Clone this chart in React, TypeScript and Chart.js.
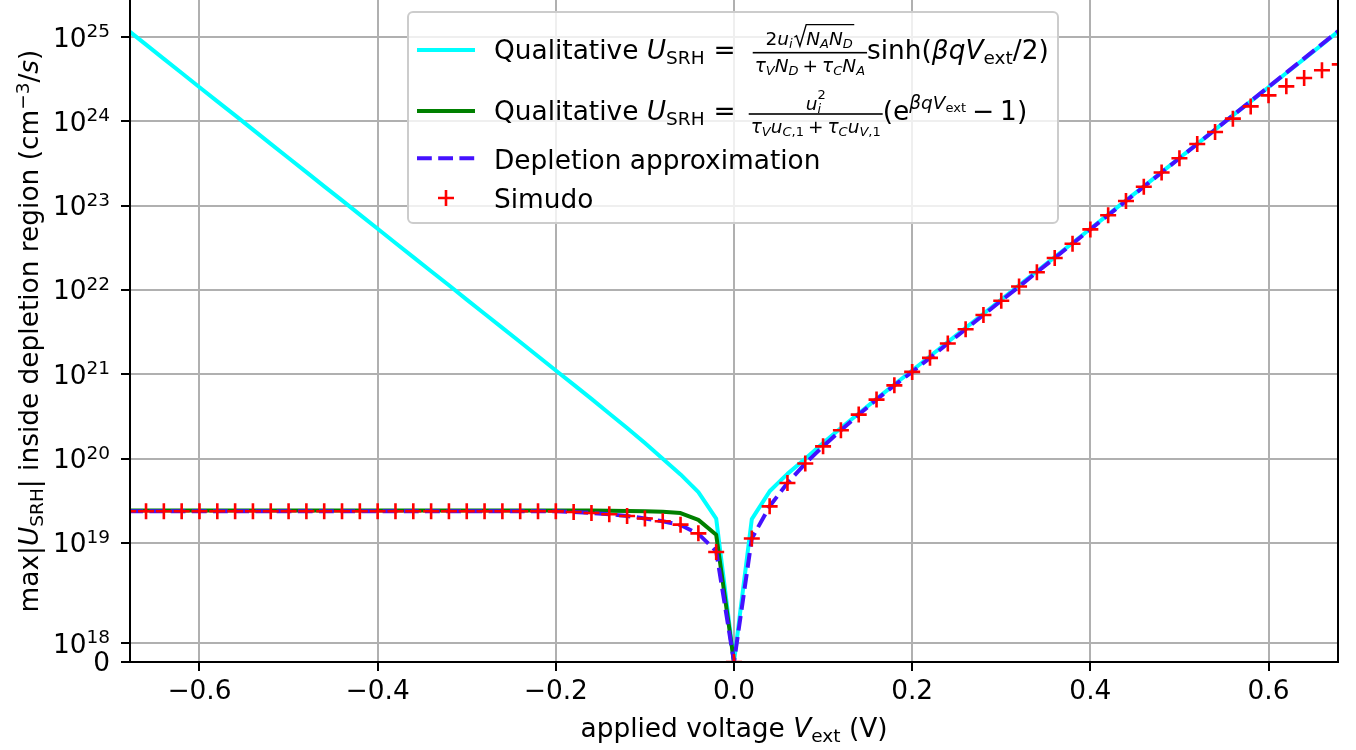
import React, { useEffect, useRef } from 'react';
import { Chart, registerables, Scale } from 'chart.js';

Chart.register(...registerables);

// ---------------- data ----------------
const VOLTAGE = [
  -0.68, -0.66, -0.64, -0.62, -0.6, -0.58, -0.56, -0.54, -0.52, -0.5,
  -0.48, -0.46, -0.44, -0.42, -0.4, -0.38, -0.36, -0.34, -0.32, -0.3,
  -0.28, -0.26, -0.24, -0.22, -0.2, -0.18, -0.16, -0.14, -0.12, -0.1,
  -0.08, -0.06, -0.04, -0.02, 0.0, 0.02, 0.04, 0.06, 0.08, 0.1,
  0.12, 0.14, 0.16, 0.18, 0.2, 0.22, 0.24, 0.26, 0.28, 0.3,
  0.32, 0.34, 0.36, 0.38, 0.4, 0.42, 0.44, 0.46, 0.48, 0.5,
  0.52, 0.54, 0.56, 0.58, 0.6, 0.62, 0.64, 0.66, 0.68,
];

// Qualitative U_SRH (sinh form), cyan
const QUAL_SINH = [
  1.2e25, 8.15e24, 5.53e24, 3.76e24, 2.55e24, 1.73e24, 1.18e24, 8.0e23, 5.43e23, 3.69e23,
  2.51e23, 1.7e23, 1.16e23, 7.85e22, 5.33e22, 3.62e22, 2.46e22, 1.67e22, 1.14e22, 7.71e21,
  5.24e21, 3.56e21, 2.42e21, 1.64e21, 1.11e21, 7.57e20, 5.12e20, 3.44e20, 2.31e20, 1.53e20,
  1.0e20, 6.5e19, 4.0e19, 1.95e19, 0, 1.92e19, 4.1e19, 6.6e19, 1.0e20, 1.53e20,
  2.31e20, 3.44e20, 5.12e20, 7.57e20, 1.11e21, 1.64e21, 2.42e21, 3.56e21, 5.24e21, 7.71e21,
  1.14e22, 1.67e22, 2.46e22, 3.62e22, 5.33e22, 7.85e22, 1.16e23, 1.7e23, 2.51e23, 3.69e23,
  5.43e23, 8.0e23, 1.18e24, 1.73e24, 2.55e24, 3.76e24, 5.53e24, 8.15e24, 1.21e25,
];

// Qualitative U_SRH (exp form), green, only for V <= 0 (first 35 voltages)
const QUAL_EXP = [
  2.42e19, 2.42e19, 2.42e19, 2.42e19, 2.42e19, 2.42e19, 2.42e19, 2.42e19, 2.42e19, 2.42e19,
  2.42e19, 2.42e19, 2.42e19, 2.42e19, 2.42e19, 2.42e19, 2.42e19, 2.42e19, 2.42e19, 2.42e19,
  2.42e19, 2.42e19, 2.42e19, 2.42e19, 2.42e19, 2.42e19, 2.42e19, 2.41e19, 2.4e19, 2.38e19,
  2.34e19, 2.26e19, 1.88e19, 1.25e19, 0,
];

// Depletion approximation, dashed
const DEPLETION = [
  2.38e19, 2.38e19, 2.38e19, 2.38e19, 2.38e19, 2.38e19, 2.38e19, 2.38e19, 2.38e19, 2.38e19,
  2.38e19, 2.38e19, 2.38e19, 2.38e19, 2.38e19, 2.38e19, 2.38e19, 2.38e19, 2.38e19, 2.38e19,
  2.38e19, 2.38e19, 2.38e19, 2.38e19, 2.37e19, 2.33e19, 2.27e19, 2.19e19, 2.09e19, 1.95e19,
  1.81e19, 1.63e19, 1.28e19, 8.0e18, 0, 1.13e19, 2.72e19, 5.14e19, 8.75e19, 1.4e20,
  2.17e20, 3.33e20, 5.02e20, 7.41e20, 1.07e21, 1.57e21, 2.32e21, 3.43e21, 5.06e21, 7.48e21,
  1.1e22, 1.63e22, 2.4e22, 3.55e22, 5.24e22, 7.73e22, 1.14e23, 1.68e23, 2.48e23, 3.66e23,
  5.41e23, 7.98e23, 1.18e24, 1.74e24, 2.57e24, 3.79e24, 5.6e24, 8.26e24, 1.22e25,
];

// Simudo, red "+"
const SIMUDO = [
  2.38e19, 2.38e19, 2.38e19, 2.38e19, 2.38e19, 2.38e19, 2.38e19, 2.38e19, 2.38e19, 2.38e19,
  2.38e19, 2.38e19, 2.38e19, 2.38e19, 2.38e19, 2.38e19, 2.38e19, 2.38e19, 2.38e19, 2.38e19,
  2.38e19, 2.38e19, 2.38e19, 2.38e19, 2.37e19, 2.33e19, 2.27e19, 2.19e19, 2.09e19, 1.95e19,
  1.81e19, 1.65e19, 1.3e19, 7.8e18, 0, 1.13e19, 2.72e19, 5.14e19, 8.75e19, 1.4e20,
  2.17e20, 3.33e20, 5.02e20, 7.41e20, 1.07e21, 1.57e21, 2.32e21, 3.43e21, 5.06e21, 7.48e21,
  1.1e22, 1.63e22, 2.4e22, 3.55e22, 5.24e22, 7.73e22, 1.14e23, 1.68e23, 2.48e23, 3.66e23,
  5.41e23, 7.5e23, 1.08e24, 1.51e24, 2.04e24, 2.61e24, 3.28e24, 4.05e24, 4.76e24,
];

const X_TICKS = [-0.6, -0.4, -0.2, 0, 0.2, 0.4, 0.6];
const X_TICK_LABELS = ['\u22120.6', '\u22120.4', '\u22120.2', '0.0', '0.2', '0.4', '0.6'];
const Y_TICKS = [0, 1e18, 1e19, 1e20, 1e21, 1e22, 1e23, 1e24, 1e25];
const Y_TICK_LABELS: [string, string][] = [
  ['0', ''], ['10', '18'], ['10', '19'], ['10', '20'], ['10', '21'],
  ['10', '22'], ['10', '23'], ['10', '24'], ['10', '25'],
];
const X_MIN = -0.678;
const X_MAX = 0.678;
const Y_MIN = 0;
const Y_MAX = 2.76e25;

// symlog parameters (matplotlib style)
const LINTHRESH = 5e18;
const LINSCALE = 1;
const LIN_ADJ = LINSCALE / (1 - 1 / 10);

function symlog(v: number): number {
  const a = Math.abs(v);
  if (a <= LINTHRESH) return (v / LINTHRESH) * LIN_ADJ;
  return Math.sign(v) * (LIN_ADJ + Math.log10(a / LINTHRESH));
}
function symlogInv(t: number): number {
  const a = Math.abs(t);
  if (a <= LIN_ADJ) return (t / LIN_ADJ) * LINTHRESH;
  return Math.sign(t) * LINTHRESH * Math.pow(10, a - LIN_ADJ);
}

class SymLogScale extends Scale {
  static id = 'symlog';
  static defaults = {};
  tMin = 0;
  tMax = 1;
  parse(raw: any) {
    if (raw === null || raw === undefined) return null;
    const v = Number(raw);
    return Number.isFinite(v) ? v : null;
  }
  determineDataLimits() {
    const mm = (this as any).getMinMax(false);
    const o: any = this.options;
    (this as any).min = typeof o.min === 'number' ? o.min : mm.min;
    (this as any).max = typeof o.max === 'number' ? o.max : mm.max;
  }
  buildTicks() {
    const self: any = this;
    return Y_TICKS.filter((v) => v >= self.min && v <= self.max).map((v) => ({ value: v }));
  }
  configure() {
    super.configure();
    const self: any = this;
    this.tMin = symlog(self.min);
    this.tMax = symlog(self.max);
  }
  getLabelForValue(v: number) {
    return String(v);
  }
  getPixelForValue(v: number) {
    return (this as any).getPixelForDecimal((symlog(v) - this.tMin) / (this.tMax - this.tMin));
  }
  getValueForPixel(p: number) {
    return symlogInv(this.tMin + (this as any).getDecimalForPixel(p) * (this.tMax - this.tMin));
  }
}
Chart.register(SymLogScale as any);

// ---------------- rich text ----------------
const FF = '"DejaVu Sans", sans-serif';
const B = 26.4;
const S1 = 18.5;
const S2 = 13.0;

type RNode =
  | { t: string; s: number; it?: boolean; dy?: number }
  | { sp: number }
  | { frac: [RNode[], RNode[]]; up: number; dn: number; bar: number; pad: number }
  | { sqrt: RNode[]; s: number }
  | { ss: [RNode[], RNode[]]; up: number; dn: number; s: number };

function rich(ctx: CanvasRenderingContext2D, nodes: RNode[], x: number, y: number, draw: boolean): number {
  let cx = x;
  for (const n of nodes as any[]) {
    if ('t' in n) {
      ctx.font = `${n.it ? 'italic ' : ''}${n.s}px ${FF}`;
      const w = ctx.measureText(n.t).width;
      if (draw) ctx.fillText(n.t, cx, y - (n.dy || 0));
      cx += w;
    } else if ('sp' in n) {
      cx += n.sp;
    } else if ('frac' in n) {
      const wn = rich(ctx, n.frac[0], 0, 0, false);
      const wd = rich(ctx, n.frac[1], 0, 0, false);
      const W = Math.max(wn, wd) + 2 * n.pad;
      if (draw) {
        rich(ctx, n.frac[0], cx + (W - wn) / 2, y - n.up, true);
        rich(ctx, n.frac[1], cx + (W - wd) / 2, y + n.dn, true);
        ctx.fillRect(cx, y - n.bar - 0.8, W, 1.6);
      }
      cx += W;
    } else if ('sqrt' in n) {
      const s = n.s;
      const rw = 0.68 * s;
      const wc = rich(ctx, n.sqrt, 0, 0, false);
      const tail = 0.08 * s;
      if (draw) {
        const top = y - 1.1 * s;
        ctx.save();
        ctx.strokeStyle = '#000';
        ctx.lineWidth = 1.4;
        ctx.lineJoin = 'miter';
        ctx.beginPath();
        ctx.moveTo(cx + 0.04 * s, y - 0.42 * s);
        ctx.lineTo(cx + 0.16 * s, y - 0.5 * s);
        ctx.lineTo(cx + 0.34 * s, y + 0.06 * s);
        ctx.lineTo(cx + rw, top);
        ctx.lineTo(cx + rw + wc + tail, top);
        ctx.stroke();
        ctx.restore();
        rich(ctx, n.sqrt, cx + rw, y, true);
      }
      cx += rw + wc + tail;
    } else if ('ss' in n) {
      const w1 = rich(ctx, n.ss[0], 0, 0, false);
      const w2 = rich(ctx, n.ss[1], 0, 0, false);
      if (draw) {
        rich(ctx, n.ss[0], cx, y - n.up, true);
        rich(ctx, n.ss[1], cx, y + n.dn, true);
      }
      cx += Math.max(w1, w2);
    }
  }
  return cx - x;
}

const SUB1 = -4.5; // subscript shift for base-size text
const SUB2 = -3; // subscript shift inside fractions

const NUM1: RNode[] = [
  { t: '2', s: S1 },
  { t: 'u', s: S1, it: true },
  { t: 'i', s: S2, it: true, dy: SUB2 },
  { sp: 1 },
  {
    sqrt: [
      { t: 'N', s: S1, it: true },
      { t: 'A', s: S2, it: true, dy: SUB2 },
      { t: 'N', s: S1, it: true },
      { t: 'D', s: S2, it: true, dy: SUB2 },
    ],
    s: S1,
  },
];
const DEN1: RNode[] = [
  { t: '\u03c4', s: S1, it: true },
  { t: 'V', s: S2, it: true, dy: SUB2 },
  { t: 'N', s: S1, it: true },
  { t: 'D', s: S2, it: true, dy: SUB2 },
  { sp: 4 },
  { t: '+', s: S1 },
  { sp: 4 },
  { t: '\u03c4', s: S1, it: true },
  { t: 'C', s: S2, it: true, dy: SUB2 },
  { t: 'N', s: S1, it: true },
  { t: 'A', s: S2, it: true, dy: SUB2 },
];
const NUM2: RNode[] = [
  { t: 'u', s: S1, it: true },
  { ss: [[{ t: '2', s: S2 }], [{ t: 'i', s: S2, it: true }]], up: 11, dn: 3, s: S2 },
];
const DEN2: RNode[] = [
  { t: '\u03c4', s: S1, it: true },
  { t: 'V', s: S2, it: true, dy: SUB2 },
  { t: 'u', s: S1, it: true },
  { t: 'C', s: S2, it: true, dy: SUB2 },
  { t: ',1', s: S2, dy: SUB2 },
  { sp: 4 },
  { t: '+', s: S1 },
  { sp: 4 },
  { t: '\u03c4', s: S1, it: true },
  { t: 'C', s: S2, it: true, dy: SUB2 },
  { t: 'u', s: S1, it: true },
  { t: 'V', s: S2, it: true, dy: SUB2 },
  { t: ',1', s: S2, dy: SUB2 },
];

const LEG_ROW1: RNode[] = [
  { t: 'Qualitative ', s: B },
  { t: 'U', s: B, it: true },
  { t: 'SRH', s: S1, dy: SUB1 },
  { sp: 9 },
  { t: '=', s: B },
  { sp: 17 },
  { frac: [NUM1, DEN1], up: 14, dn: 12.7, bar: 6.3, pad: 2 },
  { t: 'sinh(', s: B },
  { t: '\u03b2qV', s: B, it: true },
  { t: 'ext', s: S1, dy: SUB1 },
  { t: '/2)', s: B },
];
const LEG_ROW2: RNode[] = [
  { t: 'Qualitative ', s: B },
  { t: 'U', s: B, it: true },
  { t: 'SRH', s: S1, dy: SUB1 },
  { sp: 9 },
  { t: '=', s: B },
  { sp: 13 },
  { frac: [NUM2, DEN2], up: 10, dn: 13, bar: 6, pad: 2 },
  { t: '(e', s: B },
  { t: '\u03b2qV', s: S1, it: true, dy: 11 },
  { t: 'ext', s: S2, dy: 8 },
  { sp: 6 },
  { t: '\u2212', s: B },
  { sp: 6 },
  { t: '1)', s: B },
];
const LEG_ROW3: RNode[] = [{ t: 'Depletion approximation', s: B }];
const LEG_ROW4: RNode[] = [{ t: 'Simudo', s: B }];

const Y_TITLE: RNode[] = [
  { t: 'max|', s: B },
  { t: 'U', s: B, it: true },
  { t: 'SRH', s: S1, dy: SUB1 },
  { t: '| inside depletion region (cm', s: B },
  { t: '\u22123', s: S1, dy: 9.5 },
  { t: '/', s: B },
  { t: 's', s: B, it: true },
  { t: ')', s: B },
];
const X_TITLE: RNode[] = [
  { t: 'applied voltage ', s: B },
  { t: 'V', s: B, it: true },
  { t: 'ext', s: S1, dy: SUB1 },
  { t: ' (V)', s: B },
];

const COLOR_SINH = '#00ffff';
const COLOR_EXP = '#008000';
const COLOR_DEPL = '#4411ff';
const COLOR_SIM = '#ff0000';
const DASH = [14.8, 6.4];

const overlay = {
  id: 'overlay',
  afterDatasetsDraw(chart: any) {
    const ctx: CanvasRenderingContext2D = chart.ctx;
    const ca = chart.chartArea;
    ctx.save();
    ctx.strokeStyle = '#000';
    ctx.lineWidth = 2;
    ctx.lineCap = 'square';
    ctx.beginPath();
    ctx.moveTo(ca.left, ca.top - 2);
    ctx.lineTo(ca.left, ca.bottom);
    ctx.lineTo(ca.right, ca.bottom);
    ctx.lineTo(ca.right, ca.top - 2);
    ctx.stroke();
    ctx.restore();
  },
  afterDraw(chart: any) {
    const ctx: CanvasRenderingContext2D = chart.ctx;
    const ca = chart.chartArea;
    const ys = chart.scales.y;
    ctx.save();
    ctx.fillStyle = '#000';
    ctx.textBaseline = 'alphabetic';
    ctx.textAlign = 'left';

    // y tick labels
    Y_TICKS.forEach((v, i) => {
      const py = ys.getPixelForValue(v);
      const [base, exp] = Y_TICK_LABELS[i];
      const nodes: RNode[] = exp ? [{ t: base, s: B }, { t: exp, s: S1, dy: 9.5 }] : [{ t: base, s: B }];
      const w = rich(ctx, nodes, 0, 0, false);
      rich(ctx, nodes, 110 - w, py + 9.4, true);
    });

    // y title
    ctx.save();
    ctx.translate(38, (ca.top + ca.bottom) / 2);
    ctx.rotate(-Math.PI / 2);
    const wy = rich(ctx, Y_TITLE, 0, 0, false);
    rich(ctx, Y_TITLE, -wy / 2, 0, true);
    ctx.restore();

    // x title
    const wx = rich(ctx, X_TITLE, 0, 0, false);
    rich(ctx, X_TITLE, (ca.left + ca.right) / 2 - wx / 2, 737, true);

    // legend frame
    const lx = 408, ly = 12, lw = 650, lh = 211, r = 5;
    ctx.beginPath();
    ctx.moveTo(lx + r, ly);
    ctx.lineTo(lx + lw - r, ly);
    ctx.arcTo(lx + lw, ly, lx + lw, ly + r, r);
    ctx.lineTo(lx + lw, ly + lh - r);
    ctx.arcTo(lx + lw, ly + lh, lx + lw - r, ly + lh, r);
    ctx.lineTo(lx + r, ly + lh);
    ctx.arcTo(lx, ly + lh, lx, ly + lh - r, r);
    ctx.lineTo(lx, ly + r);
    ctx.arcTo(lx, ly, lx + r, ly, r);
    ctx.closePath();
    ctx.fillStyle = 'rgba(255,255,255,0.8)';
    ctx.fill();
    ctx.strokeStyle = '#cccccc';
    ctx.lineWidth = 2;
    ctx.stroke();

    // legend handles
    const hx1 = 417, hx2 = 475;
    const handleLine = (y: number, color: string, dash: number[]) => {
      ctx.save();
      ctx.strokeStyle = color;
      ctx.lineWidth = 4;
      ctx.lineCap = 'butt';
      ctx.setLineDash(dash);
      ctx.beginPath();
      ctx.moveTo(hx1, y);
      ctx.lineTo(hx2, y);
      ctx.stroke();
      ctx.restore();
    };
    handleLine(50, COLOR_SINH, []);
    handleLine(111, COLOR_EXP, []);
    handleLine(158.3, COLOR_DEPL, DASH);
    ctx.save();
    ctx.strokeStyle = COLOR_SIM;
    ctx.lineWidth = 2.6;
    ctx.beginPath();
    ctx.moveTo(446 - 8, 198);
    ctx.lineTo(446 + 8, 198);
    ctx.moveTo(446, 198 - 8);
    ctx.lineTo(446, 198 + 8);
    ctx.stroke();
    ctx.restore();

    // legend texts
    ctx.fillStyle = '#000';
    const tx = 494;
    rich(ctx, LEG_ROW1, tx, 59, true);
    rich(ctx, LEG_ROW2, tx, 120, true);
    rich(ctx, LEG_ROW3, tx, 168.5, true);
    rich(ctx, LEG_ROW4, tx, 208, true);
    ctx.restore();
  },
};

function pts(values: number[]) {
  return values.map((y, i) => ({ x: VOLTAGE[i], y }));
}

export default function App() {
  const ref = useRef<HTMLCanvasElement | null>(null);
  useEffect(() => {
    if (!ref.current) return;
    Chart.defaults.font.family = FF;
    const gridCfg = { color: '#b0b0b0', lineWidth: 2, tickColor: '#000', tickWidth: 2, tickLength: 9 };
    const chart = new Chart(ref.current, {
      type: 'line',
      data: {
        datasets: [
          {
            label: 'Simudo',
            data: pts(SIMUDO),
            showLine: false,
            pointStyle: 'cross',
            pointRadius: 8,
            pointHoverRadius: 8,
            pointBorderWidth: 2.6,
            pointBorderColor: COLOR_SIM,
            pointBackgroundColor: COLOR_SIM,
            borderColor: COLOR_SIM,
            order: 0,
          },
          {
            label: 'Depletion approximation',
            data: pts(DEPLETION),
            borderColor: COLOR_DEPL,
            borderWidth: 4,
            borderDash: DASH,
            borderJoinStyle: 'round',
            pointRadius: 0,
            tension: 0,
            order: 1,
          },
          {
            label: 'Qualitative exp',
            data: pts(QUAL_EXP),
            borderColor: COLOR_EXP,
            borderWidth: 4,
            borderJoinStyle: 'round',
            pointRadius: 0,
            tension: 0,
            order: 2,
          },
          {
            label: 'Qualitative sinh',
            data: pts(QUAL_SINH),
            borderColor: COLOR_SINH,
            borderWidth: 4,
            borderJoinStyle: 'round',
            pointRadius: 0,
            tension: 0,
            order: 3,
          },
        ],
      } as any,
      options: {
        responsive: false,
        animation: false,
        events: [],
        layout: { autoPadding: false, padding: { left: 0, right: 18, top: 0, bottom: 0 } },
        plugins: { legend: { display: false }, tooltip: { enabled: false } },
        scales: {
          x: {
            type: 'linear',
            min: X_MIN,
            max: X_MAX,
            afterBuildTicks: (s: any) => {
              s.ticks = X_TICKS.map((v) => ({ value: v }));
            },
            afterFit: (s: any) => {
              s.height = 88;
            },
            ticks: {
              callback: (_v: any, i: number) => X_TICK_LABELS[i],
              color: '#000',
              font: { size: B, family: FF },
              padding: 5,
              maxRotation: 0,
              autoSkip: false,
            },
            grid: gridCfg,
            border: { display: false },
          },
          y: {
            type: 'symlog',
            min: Y_MIN,
            max: Y_MAX,
            afterFit: (s: any) => {
              s.width = 130;
            },
            ticks: { display: false },
            grid: gridCfg,
            border: { display: false },
          },
        } as any,
      },
      plugins: [overlay],
    } as any);
    return () => chart.destroy();
  }, []);
  return (
    <div style={{ position: 'absolute', left: 0, top: 0, width: 1356, height: 750, background: '#fff' }}>
      <canvas ref={ref} width={1356} height={750} style={{ display: 'block', width: 1356, height: 750 }} />
    </div>
  );
}
